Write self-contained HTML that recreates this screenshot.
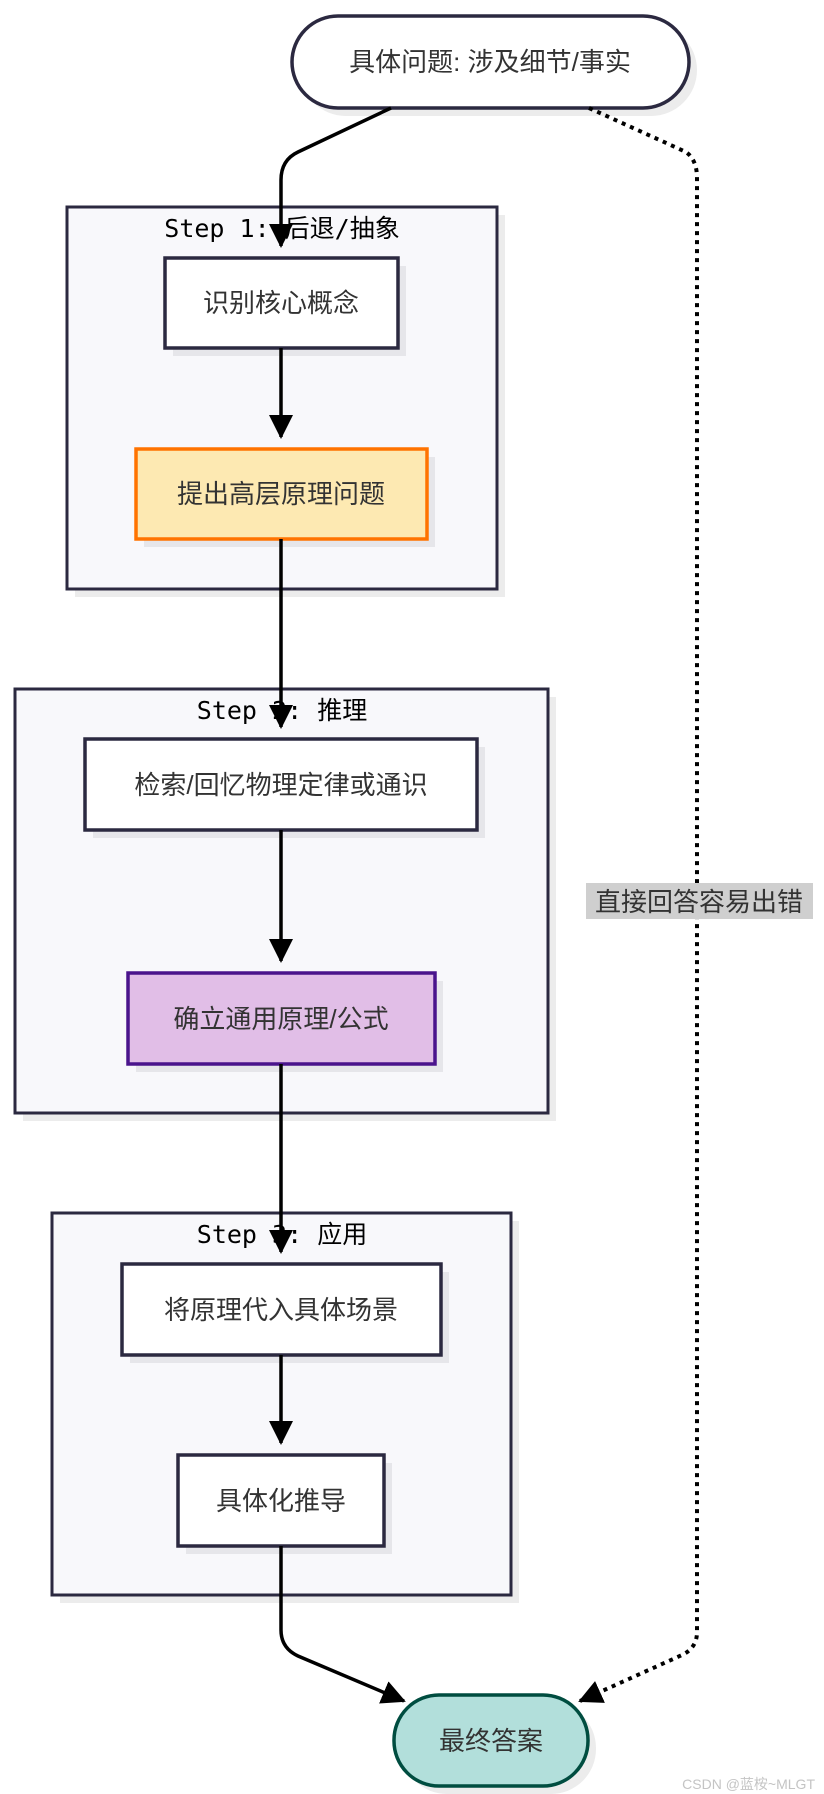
<!DOCTYPE html>
<html><head><meta charset="utf-8"><style>
html,body{margin:0;padding:0;background:#fff}
svg{display:block}
text{font-family:"Liberation Sans","Noto Sans CJK SC",sans-serif;fill:#333;font-size:26px}
.t{font-family:"DejaVu Sans Mono","Noto Sans CJK SC",monospace;fill:#000;font-size:25px}
</style></head><body>
<svg width="824" height="1794" viewBox="0 0 824 1794" xmlns="http://www.w3.org/2000/svg">
<defs>
<marker id="a" markerWidth="10" markerHeight="10" refX="8" refY="5" orient="auto" markerUnits="userSpaceOnUse" viewBox="0 0 10 10"><path d="M0,0 L10,5 L0,10z" fill="#000"/></marker>
<marker id="b" markerWidth="24" markerHeight="24" refX="22" refY="12" orient="auto" markerUnits="userSpaceOnUse" viewBox="0 0 24 24"><path d="M0,0 L24,12 L0,24z" fill="#000"/></marker>
</defs>
<!-- shadows -->
<g fill="#ececec">
<rect x="75" y="215" width="430" height="382"/>
<rect x="23" y="697" width="533" height="424"/>
<rect x="60" y="1221" width="459" height="382"/>
<rect x="300" y="24" width="397" height="92" rx="46"/>
<rect x="402" y="1703" width="194" height="91" rx="45"/>
</g>
<!-- clusters -->
<g fill="#f8f8fb" stroke="#2b2940" stroke-width="3">
<rect x="67" y="207" width="430" height="382"/>
<rect x="15" y="689" width="533" height="424"/>
<rect x="52" y="1213" width="459" height="382"/>
</g>
<text class="t" x="282" y="237" text-anchor="middle">Step 1: 后退/抽象</text>
<text class="t" x="282" y="719" text-anchor="middle">Step 2: 推理</text>
<text class="t" x="282" y="1243" text-anchor="middle">Step 3: 应用</text>
<!-- node shadows -->
<g fill="#e6e6ea">
<rect x="173" y="266" width="233" height="90"/>
<rect x="144" y="457" width="291" height="90"/>
<rect x="93" y="747" width="392" height="91"/>
<rect x="136" y="981" width="307" height="91"/>
<rect x="130" y="1272" width="319" height="91"/>
<rect x="186" y="1463" width="206" height="91"/>
</g>
<!-- nodes -->
<rect x="292" y="16" width="397" height="92" rx="46" fill="#fff" stroke="#2b2940" stroke-width="3.5"/>
<rect x="165" y="258" width="233" height="90" fill="#fff" stroke="#2b2940" stroke-width="3.5"/>
<rect x="136" y="449" width="291" height="90" fill="#fde9b2" stroke="#ff7300" stroke-width="3.5"/>
<rect x="85" y="739" width="392" height="91" fill="#fff" stroke="#2b2940" stroke-width="3.5"/>
<rect x="128" y="973" width="307" height="91" fill="#e1bee7" stroke="#4a148c" stroke-width="3.5"/>
<rect x="122" y="1264" width="319" height="91" fill="#fff" stroke="#2b2940" stroke-width="3.5"/>
<rect x="178" y="1455" width="206" height="91" fill="#fff" stroke="#2b2940" stroke-width="3.5"/>
<rect x="394" y="1695" width="194" height="91" rx="45" fill="#b2dfdb" stroke="#004d40" stroke-width="3.5"/>
<g text-anchor="middle">
<text x="490" y="71">具体问题: 涉及细节/事实</text>
<text x="281" y="312">识别核心概念</text>
<text x="281" y="503">提出高层原理问题</text>
<text x="281" y="794">检索/回忆物理定律或通识</text>
<text x="281" y="1028">确立通用原理/公式</text>
<text x="281" y="1319">将原理代入具体场景</text>
<text x="281" y="1510">具体化推导</text>
<text x="491" y="1750">最终答案</text>
</g>
<!-- edges -->
<g fill="none" stroke="#000" stroke-width="3.5">
<path d="M391,108 L298,152 Q281,160 281,180 L281,246" marker-end="url(#b)"/>
<path d="M281,348 L281,437" marker-end="url(#b)"/>
<path d="M281,539 L281,727" marker-end="url(#b)"/>
<path d="M281,830 L281,961" marker-end="url(#b)"/>
<path d="M281,1064 L281,1252" marker-end="url(#b)"/>
<path d="M281,1355 L281,1443" marker-end="url(#b)"/>
<path d="M281,1546 L281,1630 Q281,1648 298,1656 L404,1701" marker-end="url(#b)"/>
<path d="M589,108 L686,152 Q697,160 697,178 L697,1632 Q697,1648 682,1655 L580,1701" stroke-dasharray="4,5" stroke-width="4" marker-end="url(#b)"/>
</g>
<rect x="586" y="883" width="227" height="36" fill="#cfcfcf"/>
<text x="699" y="911" text-anchor="middle">直接回答容易出错</text>
<text x="815" y="1789" text-anchor="end" style="font-size:14px;fill:#c4c4c4">CSDN @蓝桉~MLGT</text>
</svg>
</body></html>
